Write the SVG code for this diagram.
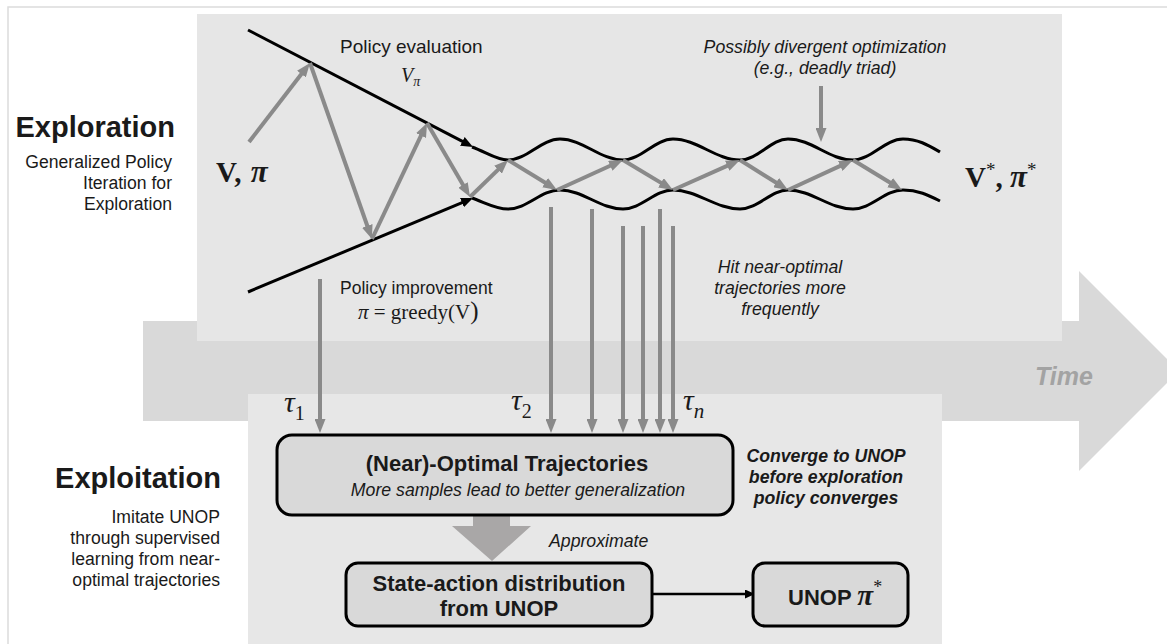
<svg xmlns="http://www.w3.org/2000/svg" width="1167" height="644" viewBox="0 0 1167 644">
  <style>
    .sans { font-family: "Liberation Sans", Arial, sans-serif; fill: #1a1a1a; }
    .serif { font-family: "Liberation Serif", "Times New Roman", serif; fill: #1a1a1a; }
    .note { font-size: 17.7px; font-style: italic; }
    .side { font-size: 17.6px; text-anchor: end; }
    .head { font-size: 29px; font-weight: bold; text-anchor: end; }
    .boxtxt { font-size: 22px; font-weight: bold; text-anchor: middle; }
    .gray { stroke: #8a8a8a; stroke-width: 4; fill: none; }
    .blk { stroke: #000; stroke-width: 3; fill: none; }
    .box { fill: #d9d9d9; stroke: #000; stroke-width: 3; }
    .tau { font-family: "Liberation Serif", "Times New Roman", serif; font-style: italic; font-size: 30px; fill: #1a1a1a; }
  </style>
  <defs>
    <marker id="gh" markerUnits="userSpaceOnUse" markerWidth="14" markerHeight="11" refX="6" refY="5.5" orient="auto">
      <path d="M0,0 L14,5.5 L0,11 z" fill="#8a8a8a"/>
    </marker>
    <marker id="bh" markerUnits="userSpaceOnUse" markerWidth="12" markerHeight="10" refX="6" refY="5" orient="auto">
      <path d="M0,0 L12,5 L0,10 z" fill="#000"/>
    </marker>
    <marker id="bs" markerUnits="userSpaceOnUse" markerWidth="10" markerHeight="9" refX="4" refY="4.5" orient="auto">
      <path d="M0,0 L10,4.5 L0,9 z" fill="#000"/>
    </marker>
  </defs>

  <!-- outer frame -->
  <path d="M8,644 L8,7 L1167,7" fill="none" stroke="#dcdcdc" stroke-width="1.5"/>

  <!-- time arrow -->
  <g id="time">
    <polygon points="143,321 1079,321 1079,271 1179,371 1079,471 1079,421 143,421" fill="#d9d9d9"/>
    <text x="1035" y="385" class="sans" font-size="25" font-weight="bold" font-style="italic" style="fill:#a3a3a3">Time</text>
  </g>

  <!-- exploration panel -->
  <g id="exploration-panel">
    <rect x="197" y="14" width="865" height="327" fill="#e6e6e6"/>
  </g>

  <!-- exploitation panel -->
  <g id="exploitation-panel">
    <rect x="248" y="394" width="694" height="250" fill="#e7e7e7"/>
  </g>

  <!-- side headings -->
  <g id="exploration-label">
    <text x="175" y="137" class="sans head">Exploration</text>
    <text x="172" y="168" class="sans side">Generalized Policy</text>
    <text x="172" y="189" class="sans side">Iteration for</text>
    <text x="172" y="210" class="sans side">Exploration</text>
  </g>
  <g id="exploitation-label">
    <text x="221" y="488" class="sans head">Exploitation</text>
    <text x="220" y="523" class="sans side">Imitate UNOP</text>
    <text x="220" y="544" class="sans side">through supervised</text>
    <text x="220" y="565" class="sans side">learning from near-</text>
    <text x="220" y="586" class="sans side">optimal trajectories</text>
  </g>

  <!-- evaluation / improvement funnel and oscillating bounds -->
  <g id="bounds">
    <path d="M248,30 L467.7,144.2" class="blk" marker-end="url(#bh)"/>
    <path d="M248,292 L467.5,200.3" class="blk" marker-end="url(#bh)"/>
    <path class="blk" d="M472,147 C486,152 496,160 508,160 C527,160 541,139 560,139 C583,139 600,160 623,160 C641,160 655,139 673,139 C697,139 716,160 740,160 C758,160 771,139 788,139 C812,139 829,160 853,160 C871,160 885,139 903,139 C918,139 928,145 940,152"/>
    <path class="blk" d="M472,198 C486,203 496,209 508,209 C527,209 541,190 560,190 C583,190 600,209 623,209 C641,209 655,190 673,190 C697,190 716,209 740,209 C758,209 771,190 788,190 C812,190 829,209 853,209 C871,209 885,190 903,190 C918,190 928,195 940,201"/>
  </g>

  <!-- iteration path -->
  <g id="connectors">
    <path class="gray" d="M249,142 L305.1,69.3" marker-end="url(#gh)"/>
    <path class="gray" d="M310,63 L369.3,231.5" marker-end="url(#gh)"/>
    <path class="gray" d="M372,239 L423.6,130.2" marker-end="url(#gh)"/>
    <path class="gray" d="M427,123 L466,190.1" marker-end="url(#gh)"/>
    <path class="gray" d="M470,197 L502.3,165.6" marker-end="url(#gh)"/>
    <path class="gray" d="M508,160 L550.2,185.8" marker-end="url(#gh)"/>
    <path class="gray" d="M557,190 L615.7,163.3" marker-end="url(#gh)"/>
    <path class="gray" d="M623,160 L666.1,185.9" marker-end="url(#gh)"/>
    <path class="gray" d="M673,190 L732.7,163.3" marker-end="url(#gh)"/>
    <path class="gray" d="M740,160 L781.2,185.8" marker-end="url(#gh)"/>
    <path class="gray" d="M788,190 L845.7,163.4" marker-end="url(#gh)"/>
    <path class="gray" d="M853,160 L895.2,185.8" marker-end="url(#gh)"/>

    <path class="gray" d="M821,86 L821,134" marker-end="url(#gh)"/>

    <!-- sampled trajectories -->
    <path class="gray" d="M320,279 L320,425" marker-end="url(#gh)"/>
    <path class="gray" d="M551,207 L551,425" marker-end="url(#gh)"/>
    <path class="gray" d="M592,209 L592,425" marker-end="url(#gh)"/>
    <path class="gray" d="M623,226 L623,425" marker-end="url(#gh)"/>
    <path class="gray" d="M643,226 L643,425" marker-end="url(#gh)"/>
    <path class="gray" d="M660,209 L660,425" marker-end="url(#gh)"/>
    <path class="gray" d="M673,226 L673,425" marker-end="url(#gh)"/>

    <!-- approximate -->
    <polygon points="473,516 510,516 510,526 531,526 492,561 452,526 473,526" fill="#a9a7a7"/>
    <path d="M652,594 L749,594" stroke="#000" stroke-width="2.5" fill="none" marker-end="url(#bs)"/>
  </g>

  <!-- labels in the exploration panel -->
  <g id="exploration-text">
    <text x="340" y="53" class="sans" font-size="19">Policy evaluation</text>
    <text x="401" y="82" class="serif" font-style="italic" font-size="20">V<tspan font-size="14" dy="4">π</tspan></text>
    <text x="216" y="182" class="serif" font-size="29" font-weight="bold" letter-spacing="1">V, <tspan font-style="italic" font-size="31">π</tspan></text>
    <text x="965" y="187" class="serif" font-size="29" font-weight="bold">V<tspan font-size="19" font-weight="normal" dy="-11">*</tspan><tspan dy="11">, </tspan><tspan font-style="italic" font-size="31">π</tspan><tspan font-size="19" font-weight="normal" dy="-11">*</tspan></text>
    <text x="340" y="294" class="sans" font-size="17.5">Policy improvement</text>
    <text x="358" y="319" class="serif" font-size="21"><tspan font-style="italic">π</tspan> = greedy(V<tspan font-size="25">)</tspan></text>
    <text x="825" y="53" class="sans note" text-anchor="middle">Possibly divergent optimization</text>
    <text x="825" y="74" class="sans note" text-anchor="middle">(e.g., deadly triad)</text>
    <text x="780" y="273" class="sans note" text-anchor="middle">Hit near-optimal</text>
    <text x="780" y="294" class="sans note" text-anchor="middle">trajectories more</text>
    <text x="780" y="315" class="sans note" text-anchor="middle">frequently</text>
  </g>

  <!-- trajectory labels -->
  <g id="tau-labels">
    <text x="284" y="412" class="tau">τ<tspan font-style="normal" font-size="20" dy="8">1</tspan></text>
    <text x="511" y="410" class="tau">τ<tspan font-style="normal" font-size="20" dy="8">2</tspan></text>
    <text x="683" y="410" class="tau">τ<tspan font-size="21" dy="8">n</tspan></text>
  </g>

  <g id="near-optimal-trajectories">
    <rect x="277" y="435" width="456" height="80" rx="15" class="box"/>
    <text x="507" y="471" class="sans boxtxt">(Near)-Optimal Trajectories</text>
    <text x="518" y="496" class="sans note" text-anchor="middle">More samples lead to better generalization</text>
  </g>

  <g id="converge-note">
    <text x="826" y="462" class="sans note" font-weight="bold" text-anchor="middle">Converge to UNOP</text>
    <text x="826" y="483" class="sans note" font-weight="bold" text-anchor="middle">before exploration</text>
    <text x="826" y="504" class="sans note" font-weight="bold" text-anchor="middle">policy converges</text>
  </g>

  <g id="approximate-label">
    <text x="549" y="547" class="sans note">Approximate</text>
  </g>

  <g id="state-action-distribution">
    <rect x="346" y="563" width="306" height="63" rx="12" class="box"/>
    <text x="499" y="591" class="sans boxtxt">State-action distribution</text>
    <text x="499" y="616" class="sans boxtxt">from UNOP</text>
  </g>

  <g id="unop">
    <rect x="753" y="563" width="155" height="63" rx="12" class="box"/>
    <text x="788" y="605" class="sans" font-size="22" font-weight="bold">UNOP <tspan class="serif" font-style="italic" font-size="29">π</tspan><tspan class="serif" font-weight="normal" font-size="18" dy="-12">*</tspan></text>
  </g>
</svg>
